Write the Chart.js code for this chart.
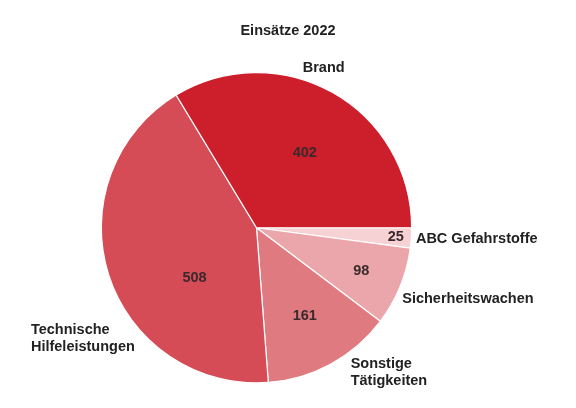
<!DOCTYPE html>
<html>
<head>
<meta charset="utf-8">
<script src="https://cdn.jsdelivr.net/npm/chart.js@4"></script>
<style>
html,body{margin:0;padding:0;background:#fff;}
#wrap{width:576px;height:408px;}
</style>
</head>
<body>
<div id="wrap"><canvas id="c" width="576" height="408"></canvas></div>
<script>
// Data (clockwise from 3 o'clock, as drawn)
const categories = ['ABC Gefahrstoffe', 'Sicherheitswachen', 'Sonstige\nTätigkeiten', 'Technische\nHilfeleistungen', 'Brand'];
const values = [25, 98, 161, 508, 402];
const colors = ['#f6d2d5', '#eaa6ab', '#e07a81', '#d54c56', '#cc1f2b'];
const title = 'Einsätze 2022';

const FONT = '"Liberation Sans", Arial, Helvetica, sans-serif';

// label placement options (radial fraction of radius, angle shift in degrees, alignment)
const valueLabelOpts = [
  {r: 0.90, da: 0},
  {r: 0.73, da: 0},
  {r: 0.65, da: 0},
  {r: 0.515, da: -21.3},
  {r: 0.573, da: 3.5}
];
const catLabelOpts = [
  {r: 1.03, a: 4.0, align: 'left'},
  {r: 1.045, a: 26, align: 'left'},
  {r: 1.114, a: 57, align: 'left'},
  {r: 1.06, a: 137.7, align: 'rightblock'},
  {r: 1.117, a: -67.2, align: 'center'}
];

const labelPlugin = {
  id: 'pieLabels',
  afterDatasetsDraw(chart) {
    const ctx = chart.ctx;
    const meta = chart.getDatasetMeta(0);
    ctx.save();
    ctx.textBaseline = 'middle';
    // title
    ctx.fillStyle = '#222';
    ctx.font = 'bold 14.5px ' + FONT;
    ctx.textAlign = 'center';
    ctx.fillText(title, chart.width / 2, 31);
    meta.data.forEach((arc, i) => {
      const p = arc.getProps(['x', 'y', 'startAngle', 'endAngle', 'outerRadius'], true);
      const mid = (p.startAngle + p.endAngle) / 2;
      // value label
      const vo = valueLabelOpts[i];
      const va = mid + vo.da * Math.PI / 180;
      const vx = p.x + Math.cos(va) * p.outerRadius * vo.r;
      const vy = p.y + Math.sin(va) * p.outerRadius * vo.r;
      ctx.font = 'bold 14.5px ' + FONT;
      ctx.fillStyle = '#3a2a2b';
      ctx.textAlign = 'center';
      ctx.fillText(String(values[i]), vx, vy);
      // category label
      const co = catLabelOpts[i];
      const ca = co.a * Math.PI / 180;
      const cx = p.x + Math.cos(ca) * p.outerRadius * co.r;
      const cy = p.y + Math.sin(ca) * p.outerRadius * co.r;
      const lines = categories[i].split('\n');
      const lh = 16.5;
      ctx.fillStyle = '#222';
      let x = cx;
      if (co.align === 'rightblock') {
        const w = Math.max(...lines.map(l => ctx.measureText(l).width));
        x = cx - w;
        ctx.textAlign = 'left';
      } else {
        ctx.textAlign = co.align;
      }
      const y0 = cy - (lines.length - 1) * lh / 2;
      lines.forEach((l, k) => ctx.fillText(l, x, y0 + k * lh));
    });
    ctx.restore();
  }
};

new Chart(document.getElementById('c'), {
  type: 'pie',
  data: {
    labels: categories,
    datasets: [{
      data: values,
      backgroundColor: colors,
      borderColor: '#ffffff',
      borderWidth: 1.2
    }]
  },
  options: {
    responsive: false,
    animation: false,
    rotation: 90,
    layout: { padding: { left: 100.5, right: 163.5, top: 72, bottom: 24.5 } },
    plugins: {
      legend: { display: false },
      tooltip: { enabled: false },
      title: { display: false }
    },
    events: []
  },
  plugins: [labelPlugin]
});
</script>
</body>
</html>
